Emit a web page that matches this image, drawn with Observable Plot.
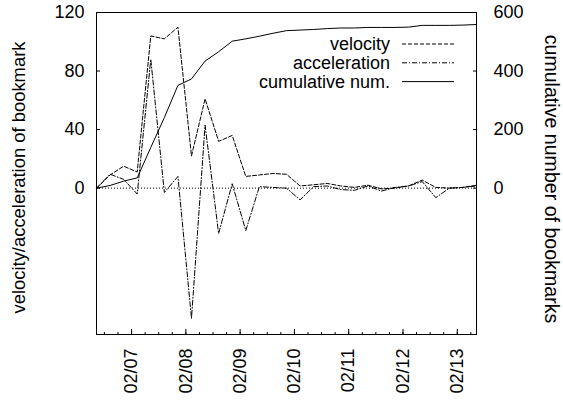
<!DOCTYPE html>
<html>
<head>
<meta charset="utf-8">
<script src="https://cdn.jsdelivr.net/npm/d3@7"></script>
<script src="https://cdn.jsdelivr.net/npm/@observablehq/plot@0.6"></script>
<style>
  html, body { margin: 0; padding: 0; background: white; }
  #chart svg { display: block; }
</style>
</head>
<body>
<div id="chart"></div>
<script>
// sample times (every 6 hours)
const times = [
  "2007-02-06T08:30Z","2007-02-06T14:30Z","2007-02-06T20:30Z","2007-02-07T02:30Z",
  "2007-02-07T08:30Z","2007-02-07T14:30Z","2007-02-07T20:30Z","2007-02-08T02:30Z",
  "2007-02-08T08:30Z","2007-02-08T14:30Z","2007-02-08T20:30Z","2007-02-09T02:30Z",
  "2007-02-09T08:30Z","2007-02-09T14:30Z","2007-02-09T20:30Z","2007-02-10T02:30Z",
  "2007-02-10T08:30Z","2007-02-10T14:30Z","2007-02-10T20:30Z","2007-02-11T02:30Z",
  "2007-02-11T08:30Z","2007-02-11T14:30Z","2007-02-11T20:30Z","2007-02-12T02:30Z",
  "2007-02-12T08:30Z","2007-02-12T14:30Z","2007-02-12T20:30Z","2007-02-13T02:30Z",
  "2007-02-13T08:30Z"
];
const velocity = [0, 9, 15, 11, 104, 102, 110, 22, 61, 32, 36, 8, 9, 10, 9.5, 1.5, 2.3, 3.2, 1.5, 0.5, 2, -0.5, 0, 1.5, 5.5, 0.5, 0, 0.5, 2];
const acceleration = [0, 9.5, 6, -4, 88, -3, 8, -89, 43, -31, 3, -29, 1, 0.5, 0, -8, 1, 1.5, -1, -1.5, 1.5, -2, 0.5, 1.5, 4.5, -6.5, 0, 0.5, 1.5];
const cumulative = [0, 9, 24, 35, 139, 241, 351, 373, 434, 466, 502, 510, 519, 529, 538, 540, 542, 545, 547, 547, 549, 549, 549, 550, 556, 556, 556, 557, 559];

// axes
const xTickDates = ["2007-02-07","2007-02-08","2007-02-09","2007-02-10","2007-02-11","2007-02-12","2007-02-13"];
const yLeftTicks = [0, 40, 80, 120];
const yRightTicks = [0, 200, 400, 600];
const yLeftDomain = [-100, 120];
const yRightDomain = [-500, 600];
const yLeftLabel = "velocity/acceleration of bookmark";
const yRightLabel = "cumulative number of bookmarks";
const legendLabels = ["velocity", "acceleration", "cumulative num."];

const T = times.map(t => new Date(t));
const ratio = (yRightDomain[1] - yRightDomain[0]) / (yLeftDomain[1] - yLeftDomain[0]); // 5
const vel = T.map((t, i) => ({t, v: velocity[i]}));
const acc = T.map((t, i) => ({t, v: acceleration[i]}));
const cum = T.map((t, i) => ({t, v: cumulative[i] / ratio}));
const majorTicks = xTickDates.map(d => new Date(d + "T00:00Z"));
const minorTicks = d3.utcHour.every(6).range(T[0], T[T.length - 1]);
const fmt = d3.utcFormat("%m/%d");

const font = "'Liberation Sans', Arial, Helvetica, sans-serif";

const plot = Plot.plot({
  width: 563,
  height: 401,
  marginLeft: 96,
  marginRight: 87,
  marginTop: 12,
  marginBottom: 67,
  style: {fontFamily: font, fontSize: "18px", background: "white", color: "black", overflow: "visible"},
  x: {type: "utc", domain: [T[0], T[T.length - 1]]},
  y: {domain: yLeftDomain},
  marks: [
    Plot.ruleY([0], {stroke: "black", strokeWidth: 1, strokeDasharray: "1,2"}),
    Plot.line(vel, {x: "t", y: "v", stroke: "black", strokeWidth: 1, strokeDasharray: "4,2"}),
    Plot.line(acc, {x: "t", y: "v", stroke: "black", strokeWidth: 1, strokeDasharray: "5,2,1,2"}),
    Plot.line(cum, {x: "t", y: "v", stroke: "black", strokeWidth: 1}),
    Plot.axisY(yLeftTicks, {anchor: "left", tickSize: -4, tickPadding: 16, label: null, fontSize: 18}),
    Plot.axisY(yRightTicks.map(d => d / ratio), {anchor: "right", tickSize: -4, tickPadding: 21, label: null, fontSize: 18, tickFormat: d => String(Math.round(d * ratio))}),
    Plot.axisX(minorTicks, {anchor: "bottom", tickSize: -2, text: null, label: null}),
    Plot.axisX(majorTicks, {anchor: "bottom", tickSize: -5, tickPadding: 19, tickRotate: -90, textAnchor: "end", lineAnchor: "middle", tickFormat: fmt, label: null, fontSize: 18}),
    Plot.text([yLeftLabel], {frameAnchor: "left", dx: -77, dy: 4, rotate: -90, textAnchor: "middle", lineAnchor: "middle", text: d => d, fontSize: 18.4, fill: "black"}),
    Plot.text([yRightLabel], {frameAnchor: "right", dx: 75, dy: 5.5, rotate: 90, textAnchor: "middle", lineAnchor: "middle", text: d => d, fontSize: 19.6, fill: "black"}),
    Plot.frame({stroke: "black", strokeWidth: 1})
  ]
});

document.getElementById("chart").appendChild(plot);

// legend (gnuplot style, inside top right)
const svg = d3.select(plot);
const dashes = ["4,2", "5,2,1,2", null];
const lg = svg.append("g").attr("font-family", font).attr("font-size", 18);
legendLabels.forEach((label, i) => {
  const y = 44 + i * 18.8;
  lg.append("text").attr("x", 390).attr("y", y).attr("dy", "0.35em")
    .attr("text-anchor", "end").attr("fill", "black").text(label);
  lg.append("line").attr("x1", 402).attr("x2", 454).attr("y1", y).attr("y2", y)
    .attr("stroke", "black").attr("stroke-width", 1)
    .attr("stroke-dasharray", dashes[i]);
});
</script>
</body>
</html>
